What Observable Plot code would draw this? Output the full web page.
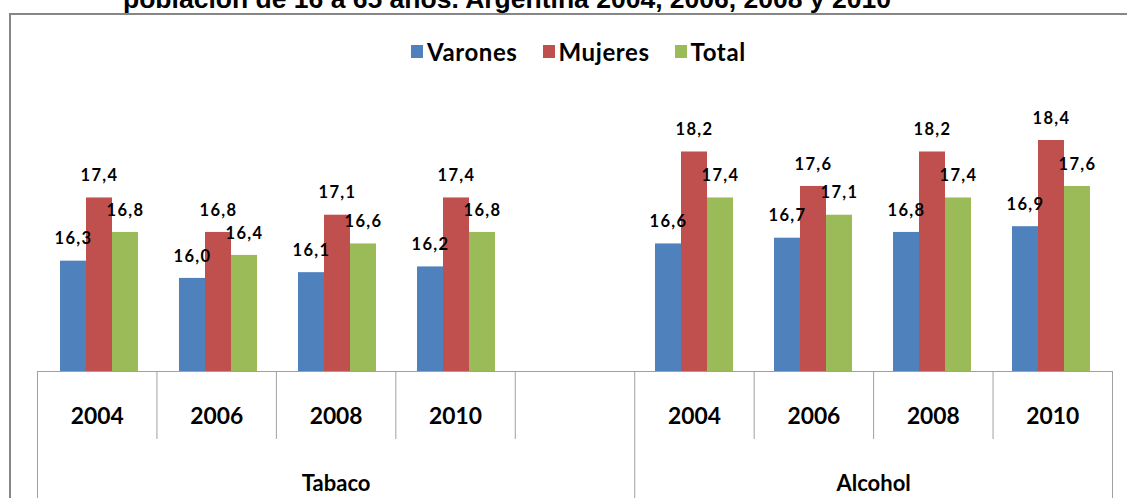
<!DOCTYPE html>
<html>
<head>
<meta charset="utf-8">
<script src="https://cdn.jsdelivr.net/npm/d3@7"></script>
<script src="https://cdn.jsdelivr.net/npm/@observablehq/plot@0.6"></script>
<style>
  html, body { margin: 0; padding: 0; background: #fff; }
  #chart { position: relative; width: 1127px; height: 498px; overflow: hidden; background: #fff; }
  #title { position: absolute; left: 123px; top: -13.6px; font: bold 26.5px "Liberation Sans", Arial, sans-serif;
           line-height: 26.5px; white-space: nowrap; color: #000; }
  #frame { position: absolute; left: 9px; top: 13px; width: 1300px; height: 700px;
           border: 2px solid #868686; box-sizing: border-box; }
  #legend { position: absolute; left: 411px; top: 40px; display: flex; align-items: center;
            font: bold 24px Lato, sans-serif; line-height: 23px; letter-spacing: 0.6px; color: #000; white-space: nowrap; }
  #legend .it { display: flex; align-items: center; margin-right: 25px; }
  #legend .sw { width: 12px; height: 13px; margin-right: 4px; }
  #chart svg { position: absolute; left: 0; }
</style>
</head>
<body>
<div id="chart">
  <div id="frame"></div>
  <div id="title">población de 16 a 65 años. Argentina 2004, 2006, 2008 y 2010</div>
  <div id="legend"></div>
</div>
<script>
// ---- data ----
const series = ["Varones", "Mujeres", "Total"];
const colors = ["#4F81BD", "#C0504D", "#9BBB59"];
const groups = ["Tabaco", "Alcohol"];
const tabacoYears = ["2004", "2006", "2008", "2010", ""];   // last slot left blank in the original
const alcoholYears = ["2004", "2006", "2008", "2010"];
const tabacoVarones = [16.3, 16.0, 16.1, 16.2];
const tabacoMujeres = [17.4, 16.8, 17.1, 17.4];
const tabacoTotal   = [16.8, 16.4, 16.6, 16.8];
const alcoholVarones = [16.6, 16.7, 16.8, 16.9];
const alcoholMujeres = [18.2, 17.6, 18.2, 18.4];
const alcoholTotal   = [17.4, 17.1, 17.4, 17.6];
const yAxisMin = 14.38;
const yAxisMax = 18.4;

// ---- tables built from the arrays ----
const groupYears = [tabacoYears, alcoholYears];
const groupValues = [
  [tabacoVarones, tabacoMujeres, tabacoTotal],
  [alcoholVarones, alcoholMujeres, alcoholTotal]
];
const slots = [];
const slotCells = [];
groups.forEach((g, gi) => {
  groupYears[gi].forEach((y, yi) => {
    slotCells.push({key: g + "|" + yi, year: y, group: g, index: slots.length});
    slots.push(g + "|" + yi);
  });
});
const rows = [];
groups.forEach((g, gi) => {
  groupYears[gi].forEach((y, yi) => {
    if (y === "") return;
    series.forEach((s, si) => {
      rows.push({slot: g + "|" + yi, series: s, value: groupValues[gi][si][yi]});
    });
  });
});
const fmt = v => v.toFixed(1).replace(".", ",");

// group spans (in slot units)
const groupSpans = [];
let start = 0;
groups.forEach((g, gi) => {
  const n = groupYears[gi].length;
  groupSpans.push({group: g, start, end: start + n});
  start += n;
});
const groupBounds = [0, ...groupSpans.map(d => d.end)];
const yearBounds = slotCells.map(d => d.index).filter(i => !groupBounds.includes(i));

const W = 1127, mL = 37, mR = 15;

// ---- bars ----
const bars = Plot.plot({
  width: W, height: 371,
  marginLeft: mL, marginRight: mR, marginTop: 140, marginBottom: 0,
  fx: {domain: slots, padding: 0, axis: null},
  x: {domain: series, paddingInner: 0, paddingOuter: 0.736, axis: null},
  y: {domain: [yAxisMin, yAxisMax], axis: null},
  color: {domain: series, range: colors},
  style: {background: "none", overflow: "visible", letterSpacing: "1.3px"},
  marks: [
    Plot.barY(rows, {fx: "slot", x: "series", y1: yAxisMin, y2: "value", fill: "series"}),
    Plot.text(rows, {fx: "slot", x: "series", y: "value", text: d => fmt(d.value), dy: -22, dx: 0,
      fontFamily: "Lato", fontWeight: "bold", fontSize: 16.5, fill: "#000"})
  ]
});
bars.style.top = "0px";
document.getElementById("chart").appendChild(bars);

// ---- category table under the axis ----
const table = Plot.plot({
  width: W, height: 136,
  marginLeft: mL, marginRight: mR, marginTop: 0, marginBottom: 0,
  x: {domain: [0, slots.length], axis: null},
  y: {domain: [0, 2], reverse: true, axis: null},
  style: {background: "none", overflow: "visible"},
  marks: [
    Plot.ruleY([0], {stroke: "#a0a0a0"}),
    Plot.ruleX(yearBounds, {x: d => d, y1: 0, y2: 1, stroke: "#a0a0a0"}),
    Plot.ruleX(groupBounds, {x: d => d, y1: 0, y2: 2, stroke: "#a0a0a0"}),
    Plot.text(slotCells.filter(d => d.year !== ""), {x: d => d.index + 0.5, y: 0.5, text: "year", dy: 11,
      fontFamily: "Lato", fontWeight: "bold", fontSize: 22.8, fill: "#000"}),
    Plot.text(groupSpans, {x: d => (d.start + d.end) / 2, y: 1.5, text: "group", dy: 10,
      fontFamily: "Lato", fontWeight: "bold", fontSize: 22, fill: "#000"})
  ]
});
table.style.top = "371px";
document.getElementById("chart").appendChild(table);

// ---- legend ----
const legend = d3.select("#legend");
series.forEach((s, i) => {
  const it = legend.append("div").attr("class", "it");
  it.append("div").attr("class", "sw").style("background", colors[i]);
  it.append("span").text(s);
});
// keep title/legend on top
document.getElementById("chart").appendChild(document.getElementById("legend"));
document.getElementById("chart").appendChild(document.getElementById("title"));
</script>
</body>
</html>
